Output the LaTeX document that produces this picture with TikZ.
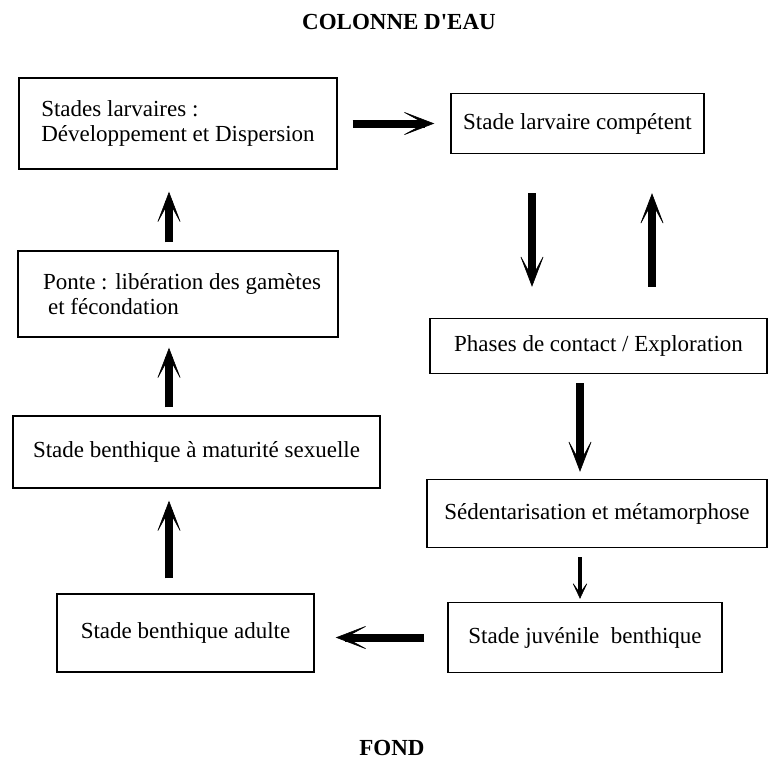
\documentclass[tikz,border=0pt]{standalone}
\usepackage{fontspec}
\setmainfont{Liberation Serif}
\usetikzlibrary{arrows.meta, positioning}

\begin{document}
\begin{tikzpicture}[
            x=0.5pt, y=-0.5pt,
            font=\fontsize{11.5}{12.5}\selectfont,
            boite/.style={rectangle, draw, line width=0.7pt, inner sep=0pt, align=left},
            titre/.style={font=\fontsize{11.5}{12.5}\selectfont\bfseries},
            fleche/.style={draw, line width=4pt, -{Stealth[length=17pt, width=13pt, inset=12pt, line width'=0.3pt]}},
            flechefine/.style={draw, line width=2.2pt, -{Stealth[length=9pt, width=8.5pt, inset=6pt, line width'=0.3pt]}}
        ]
            \useasboundingbox (0,0) rectangle (769,762);
            % Placement des noeuds
            \node [titre] (haut) at (399,22) {COLONNE D\textquotesingle EAU};
            \node [boite, minimum width=159pt, minimum height=45.5pt] (larves) at (178,123.5) {Stades larvaires :\\Développement et Dispersion};
            \node [boite, minimum width=160pt, minimum height=43pt, below of=larves, node distance=85.25pt] (ponte) {\hspace{4pt}Ponte : libération des gamètes\\\hspace{6.5pt}et fécondation};
            \node [boite, minimum width=183.5pt, minimum height=36pt, below of=ponte, node distance=79pt, xshift=9.25pt] (maturite) {Stade benthique à maturité sexuelle};
            \node [boite, minimum width=128.5pt, minimum height=39pt, below of=maturite, node distance=90.5pt, xshift=-5.5pt] (adulte) {Stade benthique adulte};
            \node [boite, minimum width=126.5pt, minimum height=30pt, right of=larves, node distance=199.75pt] (competent) {Stade larvaire compétent};
            \node [boite, minimum width=168.5pt, minimum height=27.5pt, below of=competent, node distance=111.25pt, xshift=10.5pt] (contact) {Phases de contact / Exploration};
            \node [boite, minimum width=170pt, minimum height=34pt, below of=contact, node distance=83.75pt, xshift=-0.75pt] (sedentaire) {Sédentarisation et métamorphose};
            \node [boite, minimum width=137pt, minimum height=35pt, below of=sedentaire, node distance=62pt, xshift=-6pt] (juvenile) {Stade juvénile~ benthique};
            \node [titre] (fond) at (392,748) {FOND};

            % Colonnes des flèches
            \coordinate (gauche) at (169,0);
            \coordinate (descente) at (532,0);
            \coordinate (montee) at (652,0);
            \coordinate (droite) at (580,0);

            % Flèches
            \path [fleche, shorten <=7.5pt, shorten >=8pt] (larves.east) -- (competent.west);
            \path [fleche, shorten <=19.5pt, shorten >=15.5pt] (competent.south -| descente) -- (contact.north -| descente);
            \path [fleche, shorten <=15.5pt, shorten >=19.5pt] (contact.north -| montee) -- (competent.south -| montee);
            \path [fleche, shorten <=4.5pt, shorten >=3.5pt] (contact.south -| droite) -- (sedentaire.north -| droite);
            \path [flechefine, shorten <=4.5pt, shorten >=1.5pt] (sedentaire.south -| droite) -- (juvenile.north -| droite);
            \path [fleche, shorten <=11.5pt, shorten >=10.5pt] (juvenile.west) -- (juvenile.west -| adulte.east);
            \path [fleche, shorten <=7.5pt, shorten >=6pt] (adulte.north -| gauche) -- (maturite.south -| gauche);
            \path [fleche, shorten <=4pt, shorten >=5pt] (maturite.north -| gauche) -- (ponte.south -| gauche);
            \path [fleche, shorten <=4pt, shorten >=11pt] (ponte.north -| gauche) -- (larves.south -| gauche);
        \end{tikzpicture}
\end{document}
